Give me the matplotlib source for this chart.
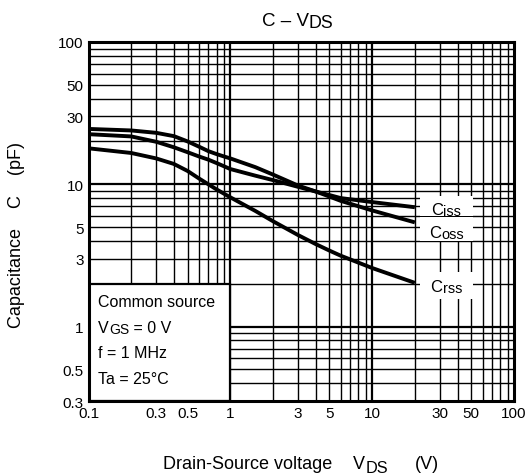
import matplotlib
matplotlib.use("Agg")
import matplotlib.pyplot as plt
from matplotlib.patches import Rectangle

plt.rcParams['font.family'] = ['Liberation Sans', 'DejaVu Sans']

# Data
vds = [0.1, 0.2, 0.3, 0.4, 0.5, 0.6, 0.7, 0.8, 0.9, 1.0, 1.5, 2.0, 3.0, 4.0, 5.0, 6.0, 10.0, 20.0]
ciss = [22.5, 21.7, 19.9, 18.2, 16.8, 15.7, 14.9, 14.1, 13.4, 12.8, 11.5, 10.7, 9.6, 8.9, 8.4, 8.0, 7.5, 6.9]
coss = [24.5, 23.9, 23.0, 21.8, 20.0, 18.4, 17.1, 16.3, 15.7, 15.2, 13.2, 11.7, 9.8, 8.9, 8.2, 7.65, 6.55, 5.4]
crss = [17.9, 16.6, 15.2, 13.9, 12.4, 11.0, 10.0, 9.2, 8.6, 8.1, 6.5, 5.5, 4.4, 3.8, 3.42, 3.15, 2.58, 2.03]

xticks = [0.1, 0.3, 0.5, 1, 3, 5, 10, 30, 50, 100]
xticklabels = ['0.1', '0.3', '0.5', '1', '3', '5', '10', '30', '50', '100']
yticks = [0.3, 0.5, 1, 3, 5, 10, 30, 50, 100]
yticklabels = ['0.3', '0.5', '1', '3', '5', '10', '30', '50', '100']

W, H = 528, 477
fig = plt.figure(figsize=(W / 100, H / 100), dpi=100)
renderer = fig.canvas.get_renderer()


def fx(px):
    return px / W


def fy(py):
    return 1 - py / H


def rich(x0, base, parts, fs, sub_scale=0.87, sub_drop=2.5, zorder=5):
    """parts: list of (text, is_sub). Draw left-to-right from pixel x0 on baseline."""
    x = x0
    for txt, is_sub in parts:
        size = fs * sub_scale if is_sub else fs
        y = base + (sub_drop if is_sub else 0)
        t = fig.text(fx(x), fy(y), txt, fontsize=size, ha='left', va='baseline', zorder=zorder)
        x += t.get_window_extent(renderer).width
    return x


ax = fig.add_axes([fx(88.5), fy(402), (514 - 88.5) / W, (402 - 43) / H])
ax.set_xscale('log')
ax.set_yscale('log')
ax.set_xlim(0.1, 100)
ax.set_ylim(0.3, 100)

# grid lines
for dec in [0.1, 1, 10]:
    for m in range(1, 10):
        v = dec * m
        if 0.1 < v < 100:
            ax.axvline(v, color='black', lw=1.6 if m == 1 else 1.0, zorder=1)
        if 0.3 < v < 100:
            ax.axhline(v, color='black', lw=1.6 if m == 1 else 1.0, zorder=1)

for series in (coss, ciss, crss):
    ax.plot(vds, series, color='black', lw=2.8, zorder=3,
            solid_capstyle='butt', solid_joinstyle='round')

# white boxes behind curve labels
for (y0, y1) in [(6.03, 8.3), (4.0, 5.9), (1.56, 2.42)]:
    ax.add_patch(Rectangle((21.6, y0), 51 - 21.6, y1 - y0, facecolor='white',
                           edgecolor='none', zorder=4))

# conditions box
ax.add_patch(Rectangle((0.1, 0.3), 0.9, 1.7, facecolor='white', edgecolor='black',
                       lw=1.6, zorder=4))

ax.set_xticks(xticks)
ax.set_xticklabels(xticklabels)
ax.set_yticks(yticks)
ax.set_yticklabels(yticklabels)
ax.minorticks_off()
ax.tick_params(length=0, labelsize=11, pad=3.5)
for s in ax.spines.values():
    s.set_linewidth(2.2)
    s.set_zorder(6)

# curve labels
rich(431.5, 215, [('C', False), ('iss', True)], 12, sub_drop=1.5)
rich(429.5, 237.5, [('C', False), ('oss', True)], 12, sub_drop=1.5)
rich(430.5, 291.5, [('C', False), ('rss', True)], 12, sub_drop=1.5)

# conditions text
rich(98.3, 307.3, [('Common source', False)], 11.5)
rich(98.3, 332.7, [('V', False), ('GS', True), (' = 0 V', False)], 11.5, sub_drop=1.7)
rich(98.3, 358.3, [('f = 1 MHz', False)], 11.5)
rich(98.3, 384.0, [('Ta = 25°C', False)], 11.5)

# title
rich(261.7, 26, [('C – V', False), ('DS', True)], 13.5, sub_scale=0.95, sub_drop=2.5)

# x label
rich(163.3, 469.3, [('Drain-Source voltage', False)], 13)
rich(353.3, 469.3, [('V', False), ('DS', True)], 13, sub_scale=0.9, sub_drop=4)
rich(415, 469.3, [('(V)', False)], 13)

# y label
fig.text(fx(17), fy(235.5), 'Capacitance    C    (pF)', ha='center', va='center',
         rotation=90, fontsize=13)

fig.savefig('out.png', dpi=100)
